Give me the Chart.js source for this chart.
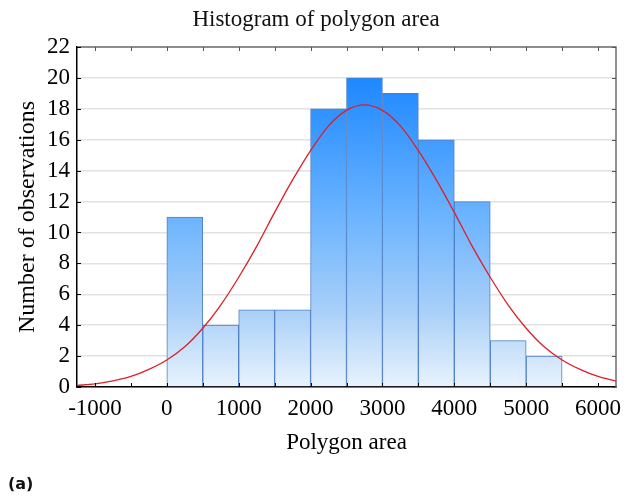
<!DOCTYPE html>
<html>
<head>
<meta charset="utf-8">
<script src="https://cdn.jsdelivr.net/npm/chart.js@4.4.0/dist/chart.umd.min.js"></script>
<style>
  html, body { margin: 0; padding: 0; background: #fff; }
  #wrap { width: 632px; height: 496px; position: relative; }
</style>
</head>
<body>
<div id="wrap"><canvas id="myChart"></canvas></div>
<script>
// Histogram bins (lower edge of each bin) and counts
const binStart = [0, 500, 1000, 1500, 2000, 2500, 3000, 3500, 4000, 4500, 5000];
const binCount = [11, 4, 5, 5, 18, 20, 19, 16, 12, 3, 2];
const binWidth = 500;

// Normal curve, values
const curveX = [-1250, -1000, -750, -500, -250, 0, 250, 500, 750, 1000, 1250, 1500, 1750, 2000, 2250, 2500, 2750,
                3000, 3250, 3500, 3750, 4000, 4250, 4500, 4750, 5000, 5250, 5500, 5750, 6000, 6250];
const curveY = [0.1, 0.2, 0.4, 0.68, 1.14, 1.75, 2.6, 3.8, 5.3, 7.1, 9.1, 11.3, 13.4, 15.3, 16.9, 17.9, 18.25,
                17.9, 16.9, 15.3, 13.4, 11.3, 9.1, 7.1, 5.3, 3.8, 2.6, 1.75, 1.14, 0.68, 0.38];

// Tick marks and labels
const xTicks = [-1000, -500, 0, 500, 1000, 1500, 2000, 2500, 3000, 3500, 4000, 4500, 5000, 5500, 6000];
const xLabels = [-1000, 0, 1000, 2000, 3000, 4000, 5000, 6000];
const yLabels = [0, 2, 4, 6, 8, 10, 12, 14, 16, 18, 20, 22];

Chart.defaults.font.family = '"Liberation Serif", "Times New Roman", serif';
Chart.defaults.color = '#000';

// bar fill: vertical gradient fixed to the y scale
function barGradient(context) {
  const chart = context.chart;
  if (!chart.chartArea) return 'rgb(100,170,250)';
  const y = chart.scales.y;
  const g = chart.ctx.createLinearGradient(0, y.getPixelForValue(20), 0, y.getPixelForValue(0));
  g.addColorStop(0, 'rgb(30,136,255)');
  g.addColorStop(0.45, 'rgb(108,180,255)');
  g.addColorStop(0.75, 'rgb(168,207,248)');
  g.addColorStop(1, 'rgb(232,243,253)');
  return g;
}

// frame on top/right + inner tick marks + panel letter
const framePlugin = {
  id: 'frame',
  afterDatasetsDraw(chart) {
    const {ctx, chartArea: a, scales: {x, y}} = chart;
    ctx.save();
    ctx.strokeStyle = '#6e6e6e';
    ctx.lineWidth = 1.5;
    ctx.beginPath();
    ctx.moveTo(a.left, a.top);
    ctx.lineTo(a.right, a.top);
    ctx.lineTo(a.right, a.bottom);
    ctx.stroke();

    ctx.lineWidth = 1;
    x.ticks.forEach(t => {
      const px = Math.round(x.getPixelForValue(t.value)) + 0.5;
      ctx.strokeStyle = '#555';
      ctx.beginPath(); ctx.moveTo(px, a.top); ctx.lineTo(px, a.top + 4); ctx.stroke();
      ctx.strokeStyle = '#000';
      ctx.beginPath(); ctx.moveTo(px, a.bottom); ctx.lineTo(px, a.bottom - 4); ctx.stroke();
    });
    y.ticks.forEach(t => {
      const py = Math.round(y.getPixelForValue(t.value)) + 0.5;
      ctx.strokeStyle = '#555';
      ctx.beginPath(); ctx.moveTo(a.right, py); ctx.lineTo(a.right - 4, py); ctx.stroke();
      ctx.strokeStyle = '#000';
      ctx.beginPath(); ctx.moveTo(a.left, py); ctx.lineTo(a.left + 4, py); ctx.stroke();
    });
    ctx.restore();
  },
  afterDraw(chart) {
    const ctx = chart.ctx;
    ctx.save();
    ctx.font = 'bold 16px "DejaVu Sans", sans-serif';
    ctx.fillStyle = '#111';
    ctx.textBaseline = 'middle';
    ctx.fillText('(a)', 8, 485);
    ctx.restore();
  }
};

const data = {
  datasets: [
    {
      type: 'line',
      label: 'Normal fit',
      data: curveX.map((v, i) => ({x: v, y: curveY[i]})),
      borderColor: 'rgb(222,30,40)',
      borderWidth: 1.3,
      pointRadius: 0,
      cubicInterpolationMode: 'monotone',
      order: 0
    },
    {
      type: 'bar',
      label: 'Polygon area',
      data: binStart.map((v, i) => ({x: v + binWidth / 2, y: binCount[i]})),
      backgroundColor: barGradient,
      borderColor: 'rgb(78,128,200)',
      borderWidth: 1,
      barPercentage: 1,
      categoryPercentage: 1,
      grouped: false,
      order: 1
    }
  ]
};

const config = {
  type: 'bar',
  data: data,
  options: {
    responsive: true,
    maintainAspectRatio: false,
    animation: false,
    layout: { padding: { left: 16, right: 16, top: 0, bottom: 35 } },
    plugins: {
      legend: { display: false },
      tooltip: { enabled: false },
      title: {
        display: true,
        text: 'Histogram of polygon area',
        color: '#111',
        font: { size: 23, weight: 'normal' },
        padding: { top: 6, bottom: 13.4 }
      }
    },
    scales: {
      x: {
        type: 'linear',
        min: -1250,
        max: 6250,
        offset: false,
        afterBuildTicks: scale => {
          scale.ticks = xTicks.map(v => ({value: v}));
        },
        afterFit: scale => { scale.height = 74; },
        ticks: {
          autoSkip: false,
          maxRotation: 0,
          padding: 8,
          font: { size: 23 },
          callback: v => xLabels.includes(v) ? String(v) : ''
        },
        grid: { display: true, offset: false, drawOnChartArea: false, drawTicks: false },
        border: { color: '#000', width: 1.5 },
        title: {
          display: true,
          text: 'Polygon area',
          font: { size: 23 },
          padding: { top: 0, bottom: 4 }
        }
      },
      y: {
        min: 0,
        max: 22,
        afterFit: scale => { scale.width = 61; },
        ticks: {
          stepSize: 2,
          padding: 7,
          font: { size: 23 },
          callback: v => yLabels.includes(v) ? String(v) : ''
        },
        grid: { color: '#e2e2e2', lineWidth: 1.5, drawTicks: false },
        border: { color: '#000', width: 1.5 },
        title: {
          display: true,
          text: 'Number of observations',
          font: { size: 24, lineHeight: 1 },
          padding: { top: 0, bottom: 0 }
        }
      }
    }
  },
  plugins: [framePlugin]
};

const ctx = document.getElementById('myChart').getContext('2d');
const myChart = new Chart(ctx, config);
</script>
</body>
</html>
